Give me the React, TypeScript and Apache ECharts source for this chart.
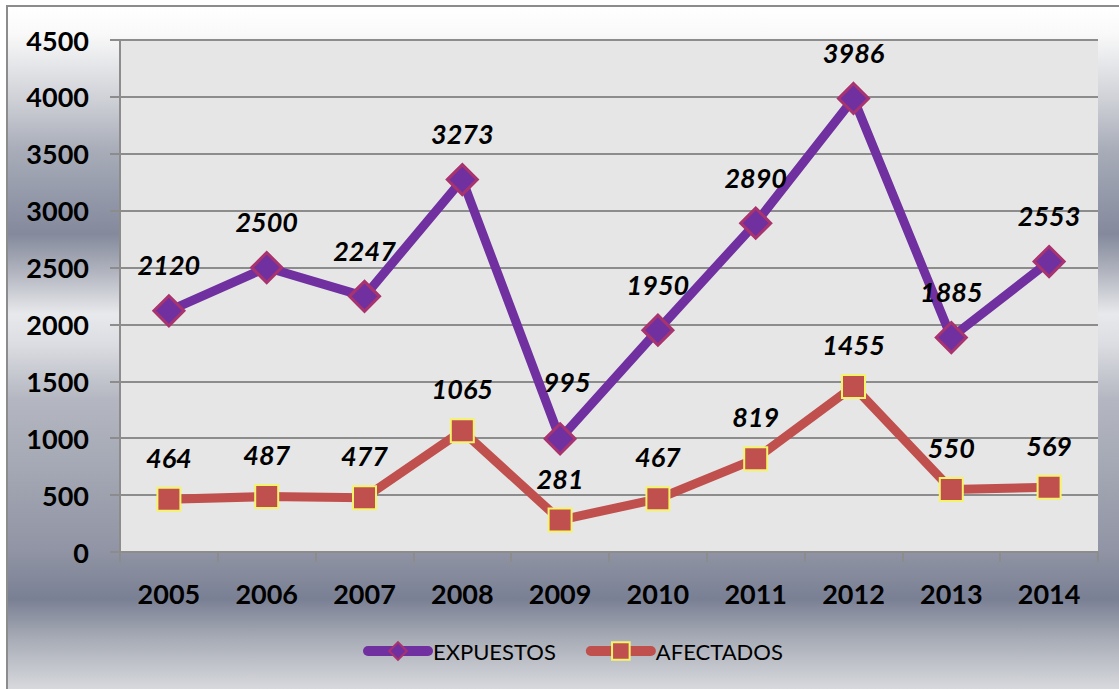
import React, { useEffect, useRef } from "react";
import * as echarts from "echarts";

const years = ["2005", "2006", "2007", "2008", "2009", "2010", "2011", "2012", "2013", "2014"];
const expuestos = [2120, 2500, 2247, 3273, 995, 1950, 2890, 3986, 1885, 2553];
const afectados = [464, 487, 477, 1065, 281, 467, 819, 1455, 550, 569];
const seriesNames = ["EXPUESTOS", "AFECTADOS"];

const FONT = "Lato, 'Open Sans', sans-serif";

const labelStyle = {
  show: true,
  position: "top" as const,
  distance: 16,
  color: "#000",
  fontFamily: FONT,
  fontSize: 27,
  lineHeight: 27,
  fontWeight: "bold" as const,
  fontStyle: "italic" as const,
};

export default function App() {
  const ref = useRef<HTMLDivElement>(null);

  useEffect(() => {
    if (!ref.current) return;
    const chart = echarts.init(ref.current, undefined, { renderer: "svg" });
    const gridColor = "#8c8c8c";
    chart.setOption({
      animation: false,
      backgroundColor: "transparent",
      grid: {
        left: 120,
        right: 21,
        top: 40,
        bottom: 137,
        show: true,
        backgroundColor: "#e6e6e6",
        borderWidth: 0,
      },
      legend: {
        left: 358,
        top: 635,
        itemWidth: 60,
        itemHeight: 22,
        itemGap: 30,
        data: [
          { name: seriesNames[0], lineStyle: { width: 10, cap: "round", color: "#7030a0" } },
          { name: seriesNames[1], lineStyle: { width: 10, cap: "round", color: "#c0504d" } },
        ],
        lineStyle: { width: 10, cap: "round" },
        textStyle: {
          color: "#000",
          fontFamily: FONT,
          fontSize: 22,
        },
      },
      xAxis: {
        type: "category",
        data: years,
        boundaryGap: true,
        axisLine: { show: true, lineStyle: { color: gridColor, width: 2 } },
        axisTick: { show: true, length: 10, interval: 0, lineStyle: { color: gridColor, width: 2 } },
        axisLabel: {
          margin: 28,
          color: "#000",
          fontFamily: FONT,
          fontSize: 27,
          fontWeight: "bold",
        },
      },
      yAxis: {
        type: "value",
        min: 0,
        max: 4500,
        interval: 500,
        axisLine: { show: true, lineStyle: { color: gridColor, width: 2 } },
        axisTick: { show: true, length: 10, lineStyle: { color: gridColor, width: 2 } },
        splitLine: { show: true, lineStyle: { color: gridColor, width: 2 } },
        axisLabel: {
          margin: 31,
          color: "#000",
          fontFamily: FONT,
          fontSize: 27,
          fontWeight: "bold",
          formatter: (v: number) => String(v),
        },
      },
      series: [
        {
          name: seriesNames[0],
          type: "line",
          data: expuestos.map((v, i) =>
            i === 4 ? { value: v, label: { offset: [7, -11] } } : v
          ),
          symbol: "diamond",
          symbolSize: 30,
          lineStyle: { color: "#7030a0", width: 9, cap: "round", join: "round" },
          itemStyle: { color: "#7030a0", borderColor: "#a8336e", borderWidth: 3 },
          label: labelStyle,
          z: 3,
        },
        {
          name: seriesNames[1],
          type: "line",
          data: afectados,
          symbol: "rect",
          symbolSize: 23,
          lineStyle: { color: "#c0504d", width: 9, cap: "round", join: "round" },
          itemStyle: { color: "#c0504d", borderColor: "#f4f46a", borderWidth: 2 },
          label: labelStyle,
          z: 2,
        },
      ],
    });
    return () => chart.dispose();
  }, []);

  const bg =
    "linear-gradient(to bottom, #ffffff 0px, #f9f9f9 27px, #cfd1d7 92px, #a9adb9 142px, #9298a8 192px, #848a9c 227px, #b4b7c1 267px, #e8e9ec 307px, #dcdde2 337px, #b4b7c1 392px, #a4a8b4 462px, #9094a4 544px, #7a8094 592px, #a8acb6 632px, #d6d8dc 681px, #d8dadd 700px)";

  return (
    <div style={{ position: "fixed", left: 0, top: 0, width: 1119, height: 689, overflow: "hidden", background: "#fff" }}>
      <div
        style={{
          position: "absolute",
          left: 6,
          top: 5,
          width: 1140,
          height: 720,
          borderTop: "2px solid #8c8c8c",
          borderLeft: "2px solid #8c8c8c",
          background: bg,
        }}
      />
      <div ref={ref} style={{ position: "absolute", left: 0, top: 0, width: 1119, height: 689 }} />
    </div>
  );
}
